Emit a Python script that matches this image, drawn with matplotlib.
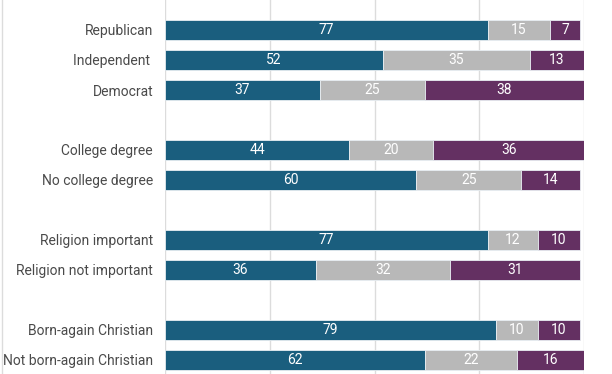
import matplotlib
matplotlib.use("Agg")
import matplotlib.pyplot as plt
from matplotlib.lines import Line2D

categories = ["Republican", "Independent ", "Democrat",
              "College degree", "No college degree",
              "Religion important", "Religion not important",
              "Born-again Christian", "Not born-again Christian"]
positions = [0, 1, 2, 4, 5, 7, 8, 10, 11]
series1 = [77, 52, 37, 44, 60, 77, 36, 79, 62]
series2 = [15, 35, 25, 20, 25, 12, 32, 10, 22]
series3 = [7, 13, 38, 36, 14, 10, 31, 10, 16]
colors = ["#1a5e7e", "#b8b8b8", "#643062"]
grid_ticks = [0, 25, 50, 75, 100]

plt.rcParams['font.family'] = ['Roboto', 'DejaVu Sans']
fig = plt.figure(figsize=(6.12, 3.74), dpi=100)
ax = fig.add_axes([165 / 612, 0, 419 / 612, 1])

left = [0] * len(series1)
for vals, col in zip([series1, series2, series3], colors):
    ax.barh(positions, vals, left=left, height=0.69, color=col,
            edgecolor="#e8eef2", linewidth=0.6, zorder=3)
    for p, v, l in zip(positions, vals, left):
        ax.text(l + v / 2, p, str(v), ha="center", va="center",
                color="white", fontsize=10, zorder=4)
    left = [a + b for a, b in zip(left, vals)]

ax.set_xlim(0, 100)
ax.set_ylim(11 + 14 / 30, -1)
ax.set_xticks(grid_ticks)
ax.xaxis.grid(True, color="#dcdcdc", linewidth=1, zorder=0)
ax.tick_params(axis="x", length=0, labelbottom=False)
ax.set_yticks(positions)
ax.set_yticklabels(categories, fontsize=10, color="#4a4a4a")
ax.tick_params(axis="y", length=0, pad=8.6)
for s in ax.spines.values():
    s.set_visible(False)
ax.set_axisbelow(True)

fig.add_artist(Line2D([1.5 / 612, 1.5 / 612], [0, 1], color="#dcdcdc",
                      linewidth=1, transform=fig.transFigure))

fig.savefig("out.png", dpi=100, facecolor="white")
